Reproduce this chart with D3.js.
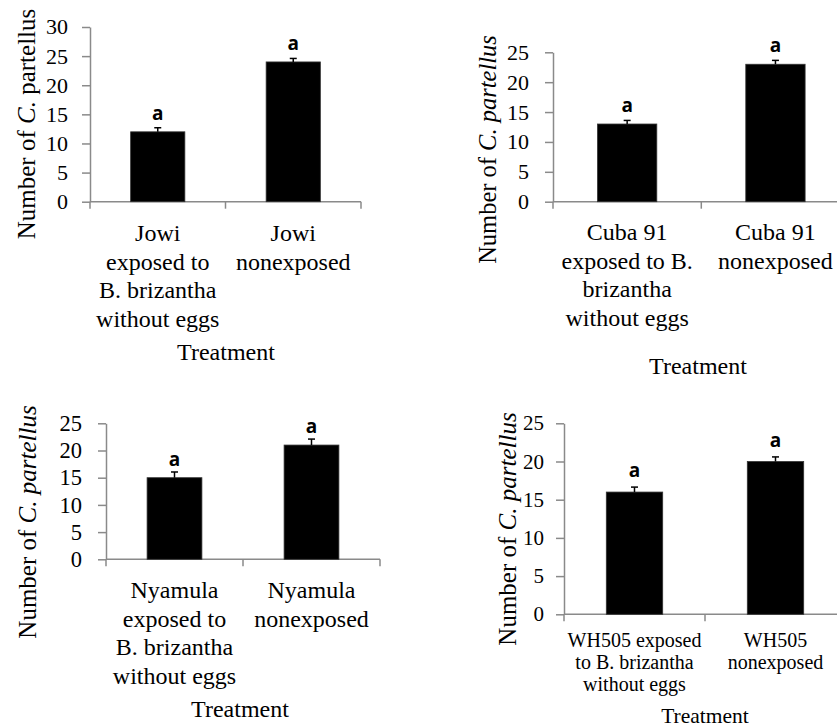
<!DOCTYPE html>
<html>
<head>
<meta charset="utf-8">
<script src="https://cdn.jsdelivr.net/npm/d3@7"></script>
<style>
  html, body { margin: 0; padding: 0; background: #fff; }
  svg { display: block; }
  text { font-family: "Liberation Serif", "Times New Roman", serif; fill: #000; }
</style>
</head>
<body>
<svg id="chart" width="837" height="728"></svg>
<script>
// ---------- data ----------
const categories1 = [["Jowi", "exposed to", "B. brizantha", "without eggs"], ["Jowi", "nonexposed"]];
const values1 = [12, 24];
const errors1 = [0.7, 0.6];
const letters1 = ["a", "a"];
const ticks1 = [0, 5, 10, 15, 20, 25, 30];

const categories2 = [["Cuba 91", "exposed to B.", "brizantha", "without eggs"], ["Cuba 91", "nonexposed"]];
const values2 = [13, 23];
const errors2 = [0.6, 0.65];
const letters2 = ["a", "a"];
const ticks2 = [0, 5, 10, 15, 20, 25];

const categories3 = [["Nyamula", "exposed to", "B. brizantha", "without eggs"], ["Nyamula", "nonexposed"]];
const values3 = [15, 21];
const errors3 = [1.05, 1.1];
const letters3 = ["a", "a"];
const ticks3 = [0, 5, 10, 15, 20, 25];

const categories4 = [["WH505 exposed", "to B. brizantha", "without eggs"], ["WH505", "nonexposed"]];
const values4 = [16, 20];
const errors4 = [0.65, 0.6];
const letters4 = ["a", "a"];
const ticks4 = [0, 5, 10, 15, 20, 25];

const xTitle = "Treatment";

// ---------- layout (positions / styles) ----------
const panels = [
  { cats: categories1, vals: values1, errs: errors1, letters: letters1, ticks: ticks1,
    x0: 90, x1: 361, yTop: 27, yBot: 201.7, tickFont: 22, tickRight: 68,
    ylabX: 27, ylabY: 124, ylabFont: 25, italicAll: false,
    catFont: 24, catY: 241, catLH: 28.5, titleX: 226, titleY: 360, titleFont: 24, sigGap: 8 },
  { cats: categories2, vals: values2, errs: errors2, letters: letters2, ticks: ticks2,
    x0: 553, x1: 849.6, yTop: 52.3, yBot: 201.7, tickFont: 22, tickRight: 529,
    ylabX: 488, ylabY: 149.5, ylabFont: 24.5, italicAll: true,
    catFont: 24, catY: 240, catLH: 28.5, titleX: 698, titleY: 374, titleFont: 24, sigGap: 8 },
  { cats: categories3, vals: values3, errs: errors3, letters: letters3, ticks: ticks3,
    x0: 106, x1: 380, yTop: 423.3, yBot: 559.3, tickFont: 22.5, tickRight: 82,
    ylabX: 28, ylabY: 522, ylabFont: 25, italicAll: true,
    catFont: 24, catY: 598, catLH: 28.5, titleX: 240, titleY: 717, titleFont: 24, sigGap: 6 },
  { cats: categories4, vals: values4, errs: errors4, letters: letters4, ticks: ticks4,
    x0: 564, x1: 846, yTop: 423.3, yBot: 614.3, tickFont: 21, tickRight: 544,
    ylabX: 508, ylabY: 529, ylabFont: 25, italicAll: true,
    catFont: 20, catY: 646.5, catLH: 22.3, titleX: 705, titleY: 722.5, titleFont: 21.5, sigGap: 10 }
];

const axisColor = "#8a8a8a";
const svg = d3.select("#chart");

panels.forEach(p => {
  const g = svg.append("g");
  const names = p.cats.map(c => c.join(" "));
  const x = d3.scaleBand().domain(names).range([p.x0, p.x1]).paddingInner(0.6).paddingOuter(0.3);
  const y = d3.scaleLinear().domain([0, d3.max(p.ticks)]).range([p.yBot, p.yTop]);

  // y axis (lines from d3.axisLeft, labels placed from the same scale)
  const yAxis = d3.axisLeft(y).tickValues(p.ticks).tickSize(8).tickSizeOuter(0).tickFormat("");
  const ya = g.append("g").attr("transform", `translate(${p.x0},0)`).call(yAxis);
  ya.select(".domain").attr("stroke", axisColor).attr("stroke-width", 1.5);
  ya.selectAll(".tick line").attr("stroke", axisColor).attr("stroke-width", 1.5);
  g.selectAll(".ytl").data(p.ticks).join("text")
    .attr("x", p.tickRight).attr("y", d => y(d))
    .attr("dy", "0.34em").attr("text-anchor", "end")
    .style("font-size", p.tickFont + "px")
    .text(d => d);

  // x axis
  const step = x.step();
  const boundaries = d3.range(names.length + 1).map(i => x.range()[0] + i * step);
  g.append("line").attr("x1", p.x0).attr("x2", p.x1).attr("y1", y(0)).attr("y2", y(0))
    .attr("stroke", axisColor).attr("stroke-width", 1.5);
  g.selectAll(".xt").data(boundaries).join("line")
    .attr("x1", d => d).attr("x2", d => d).attr("y1", y(0)).attr("y2", y(0) + 7)
    .attr("stroke", axisColor).attr("stroke-width", 1.5);

  // bars
  g.selectAll(".bar").data(names).join("rect")
    .attr("x", d => x(d)).attr("width", x.bandwidth())
    .attr("y", (d, i) => y(p.vals[i])).attr("height", (d, i) => y(0) - y(p.vals[i]))
    .attr("fill", "#000").attr("stroke", "#333").attr("stroke-width", 0.8);

  // error bars + significance letters
  names.forEach((d, i) => {
    const cx = x(d) + x.bandwidth() / 2;
    const top = y(p.vals[i] + p.errs[i]);
    g.append("line").attr("x1", cx).attr("x2", cx)
      .attr("y1", y(p.vals[i])).attr("y2", top)
      .attr("stroke", "#000").attr("stroke-width", 1.5);
    g.append("line").attr("x1", cx - 3.5).attr("x2", cx + 3.5)
      .attr("y1", top).attr("y2", top)
      .attr("stroke", "#000").attr("stroke-width", 1.5);
    g.append("text")
      .attr("x", cx).attr("y", top - p.sigGap)
      .attr("text-anchor", "middle")
      .style("font-family", "'Open Sans', 'DejaVu Sans', sans-serif")
      .style("font-weight", "bold").style("font-size", "19px")
      .text(p.letters[i]);
  });

  // category labels
  p.cats.forEach((lines, i) => {
    const cx = x(names[i]) + x.bandwidth() / 2;
    const t = g.append("text").attr("text-anchor", "middle").style("font-size", p.catFont + "px");
    lines.forEach((ln, j) => {
      t.append("tspan").attr("x", cx).attr("y", p.catY + j * p.catLH).text(ln);
    });
  });

  // x title
  g.append("text").attr("x", p.titleX).attr("y", p.titleY).attr("text-anchor", "middle")
    .style("font-size", p.titleFont + "px").text(xTitle);

  // y title
  const yt = g.append("text")
    .attr("transform", `translate(${p.ylabX + 8},${p.ylabY}) rotate(-90)`)
    .attr("text-anchor", "middle").style("font-size", p.ylabFont + "px");
  yt.append("tspan").text("Number of ");
  yt.append("tspan").attr("font-style", "italic").text("C. ");
  yt.append("tspan").attr("font-style", p.italicAll ? "italic" : "normal").text("partellus");
});
</script>
</body>
</html>
